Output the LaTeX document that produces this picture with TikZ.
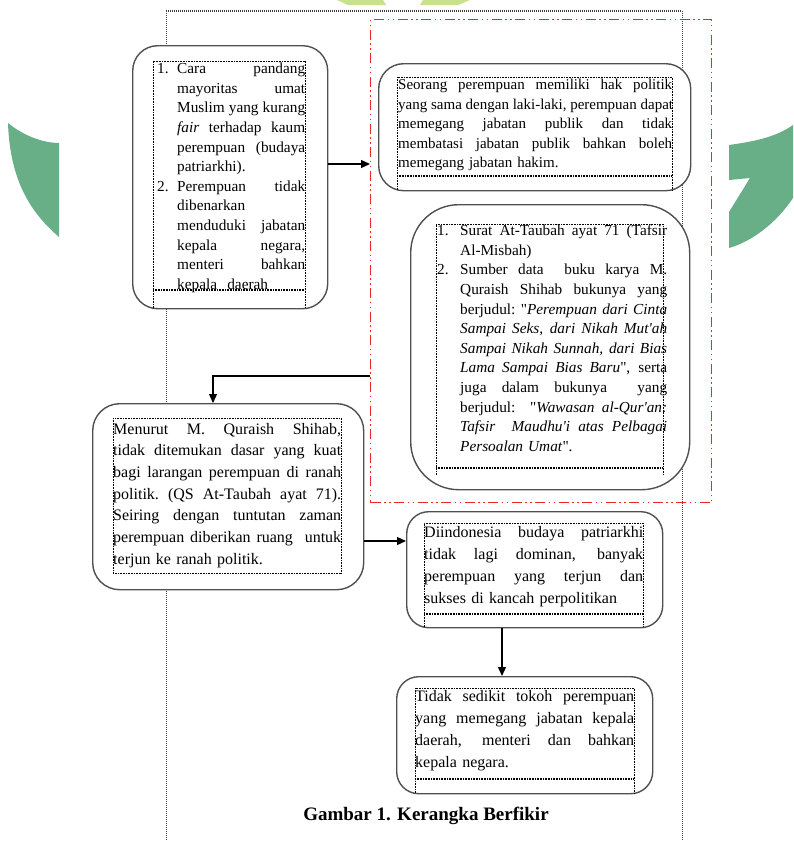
\documentclass[tikz,border=0pt]{standalone}
\usepackage{fontspec}
\setmainfont{Liberation Serif}
\newfontfamily\tnr{Liberation Serif}
\usetikzlibrary{arrows.meta}
\definecolor{boxgray}{RGB}{80,80,80}
\definecolor{wmgreen}{RGB}{104,174,134}
\definecolor{wmlight}{RGB}{200,225,140}
\definecolor{redline}{RGB}{235,40,40}
\newcommand{\jw}[2]{\leavevmode\hbox to #1{\spaceskip=0.25em plus 1fil\xspaceskip=0.25em plus 1fil\relax #2}}
\newcommand{\fs}{\rule{0pt}{11pt}}
\begin{document}
\begin{tikzpicture}[x=1pt,y=-1pt,
  box/.style={draw=boxgray, line width=1.4pt, fill=white, inner sep=0pt, anchor=north west},
  txt/.style={anchor=north west, inner sep=0pt, align=left},
  frame/.style={draw=black, line width=0.6pt, dash pattern=on 0.8pt off 0.8pt},
  dframe/.style={draw=black, line width=1.2pt, dash pattern=on 0.8pt off 0.8pt},
  arr/.style={-{Triangle[length=9pt,width=8pt]}, line width=1.2pt, black},
  page/.style={draw=black!75, line width=0.7pt, dash pattern=on 1pt off 1pt},
  redrect/.style={draw=redline, line width=1.2pt, dash pattern=on 10pt off 3.5pt on 1.5pt off 3.5pt on 1.5pt off 3.5pt, inner sep=0pt, anchor=north west}]
\useasboundingbox (0,0) rectangle (793,841);
\fill[white] (0,0) rectangle (793,841);
% watermark
\fill[wmgreen] (8,123) .. controls (25,137) and (45,143) .. (59,143) -- (59,237) .. controls (30,212) and (10,180) .. (8,123) -- cycle;
\fill[wmgreen] (729,145) .. controls (750,142) and (775,138) .. (793,125) -- (793,198) .. controls (775,225) and (750,242) .. (729,248) -- (729,212) -- (750,178) -- (729,180) -- cycle;
\fill[wmlight] (337,0) -- (383,0) -- (386,5) -- (348,5) -- cycle;
\fill[wmlight] (423,0) -- (470,0) -- (458,5) -- (420,5) -- cycle;
% page lines
\draw[page] (166,11) -- (166,841);
\draw[page] (682,11) -- (682,841);
\draw[page, line width=1.3pt] (166,11) -- (682,11);
% red dash-dot rectangle
\node[redrect, minimum width=341pt, minimum height=483pt] (redbox) at (370,19) {};
% boxes
\node[box, rounded corners=25pt, minimum width=195pt, minimum height=263pt] (box1) at (132,45) {};
\node[box, rounded corners=25pt, minimum width=312pt, minimum height=127pt] (box2) at (378,63) {};
\node[box, rounded corners=48pt, minimum width=279pt, minimum height=285pt] (box3) at (410,204) {};
\node[box, rounded corners=27pt, minimum width=271pt, minimum height=186pt] (box4) at (92,403) {};
\node[box, rounded corners=22pt, minimum width=256pt, minimum height=116pt] (box5) at (406,511) {};
\node[box, rounded corners=22pt, minimum width=256pt, minimum height=117pt] (box6) at (396,676) {};
% dotted text frames
\draw[frame] (153,308) -- (153,61) -- (305,61) -- (305,308);
\draw[dframe] (153,290) -- (305,290);
\draw[frame] (397,190) -- (397,77) -- (672,77) -- (672,190);
\draw[dframe] (397,176) -- (672,176);
\draw[frame] (436,475) -- (436,224) -- (663,224) -- (663,475);
\draw[dframe] (436,468) -- (663,468);
\draw[frame] (113,418) rectangle (341,573);
\draw[frame] (424,627) -- (424,523) -- (643,523) -- (643,627);
\draw[dframe] (424,614) -- (643,614);
\draw[frame] (415,793) -- (415,688) -- (634,688) -- (634,793);
\draw[dframe] (415,779) -- (634,779);
% texts
\node[txt, text width=148pt, font=\tnr\fontsize{15.3}{19.6}\selectfont] (t1) at (157,62.5) {%
\makebox[20pt][l]{\fs 1.}\jw{128pt}{Cara pandang}\\
\hspace*{20pt}\jw{128pt}{mayoritas umat}\\
\hspace*{20pt}\jw{128pt}{Muslim yang kurang}\\
\hspace*{20pt}\jw{128pt}{\textit{fair} terhadap kaum}\\
\hspace*{20pt}\jw{128pt}{perempuan (budaya}\\
\hspace*{20pt}patriarkhi).\\
\makebox[20pt][l]{2.}\jw{128pt}{Perempuan tidak}\\
\hspace*{20pt}dibenarkan\\
\hspace*{20pt}\jw{128pt}{menduduki jabatan}\\
\hspace*{20pt}\jw{128pt}{kepala negara,}\\
\hspace*{20pt}\jw{128pt}{menteri bahkan}\\
\hspace*{20pt}kepala~ daerah};
\node[txt, text width=274pt, font=\tnr\fontsize{15}{19.5}\selectfont] (t2) at (398,78.5) {%
\jw{274pt}{\fs Seorang perempuan memiliki hak politik}\\
\jw{274pt}{yang sama dengan laki-laki, perempuan dapat}\\
\jw{274pt}{memegang jabatan publik dan tidak}\\
\jw{274pt}{membatasi jabatan publik bahkan boleh}\\
memegang jabatan hakim.};
\node[txt, text width=230pt, font=\tnr\fontsize{15.3}{19.6}\selectfont] (t3) at (437,224.5) {%
\makebox[23pt][l]{\fs 1.}\jw{207pt}{Surat At-Taubah ayat 71 (Tafsir}\\
\hspace*{23pt}Al-Misbah)\\
\makebox[23pt][l]{2.}\jw{207pt}{Sumber data~ buku karya M.}\\
\hspace*{23pt}\jw{207pt}{Quraish Shihab bukunya yang}\\
\hspace*{23pt}\jw{207pt}{berjudul: "\textit{Perempuan dari Cinta}}\\
\hspace*{23pt}\jw{207pt}{\textit{Sampai Seks, dari Nikah Mut'ah}}\\
\hspace*{23pt}\jw{207pt}{\textit{Sampai Nikah Sunnah, dari Bias}}\\
\hspace*{23pt}\jw{207pt}{\textit{Lama Sampai Bias Baru}", serta}\\
\hspace*{23pt}\jw{207pt}{juga dalam bukunya~ yang}\\
\hspace*{23pt}\jw{207pt}{berjudul:~ "\textit{Wawasan al-Qur'an:}}\\
\hspace*{23pt}\jw{207pt}{\textit{Tafsir~ Maudhu'i atas Pelbagai}}\\
\hspace*{23pt}\textit{Persoalan Umat}".};
\node[txt, text width=228pt, font=\tnr\fontsize{16}{21.7}\selectfont] (t4) at (113,422.7) {%
\jw{228pt}{\fs Menurut M. Quraish Shihab,}\\
\jw{228pt}{tidak ditemukan dasar yang kuat}\\
\jw{228pt}{bagi larangan perempuan di ranah}\\
\jw{228pt}{politik. (QS At-Taubah ayat 71).}\\
\jw{228pt}{Seiring dengan tuntutan zaman}\\
\jw{228pt}{perempuan diberikan ruang~ untuk}\\
terjun ke ranah politik.};
\node[txt, text width=219pt, font=\tnr\fontsize{16}{22}\selectfont] (t5) at (424,525.7) {%
\jw{219pt}{\fs Diindonesia budaya patriarkhi}\\
\jw{219pt}{tidak lagi dominan, banyak}\\
\jw{219pt}{perempuan yang terjun dan}\\
sukses di kancah perpolitikan};
\node[txt, text width=219pt, font=\tnr\fontsize{16}{22.3}\selectfont] (t6) at (415,689.7) {%
\jw{219pt}{\fs Tidak sedikit tokoh perempuan}\\
\jw{219pt}{yang memegang jabatan kepala}\\
\jw{219pt}{daerah, menteri dan bahkan}\\
kepala negara.};
% connectors
\coordinate (k1) at (0,164);
\coordinate (k2) at (213,376);
\coordinate (k3) at (0,541);
\coordinate (k4) at (502,0);
\draw[arr] (box1.east |- k1) -- (redbox.west |- k1);
\draw[arr] (redbox.west |- k2) -- (k2) -- (k2 |- box4.north);
\draw[arr] (box4.east |- k3) -- (box5.west |- k3);
\draw[arr] (box5.south -| k4) -- (box6.north -| k4);
% caption
\node[font=\tnr\fontsize{19}{22}\selectfont\bfseries] (cap) at (426,816) {Gambar 1. Kerangka Berfikir};
\end{tikzpicture}
\end{document}
